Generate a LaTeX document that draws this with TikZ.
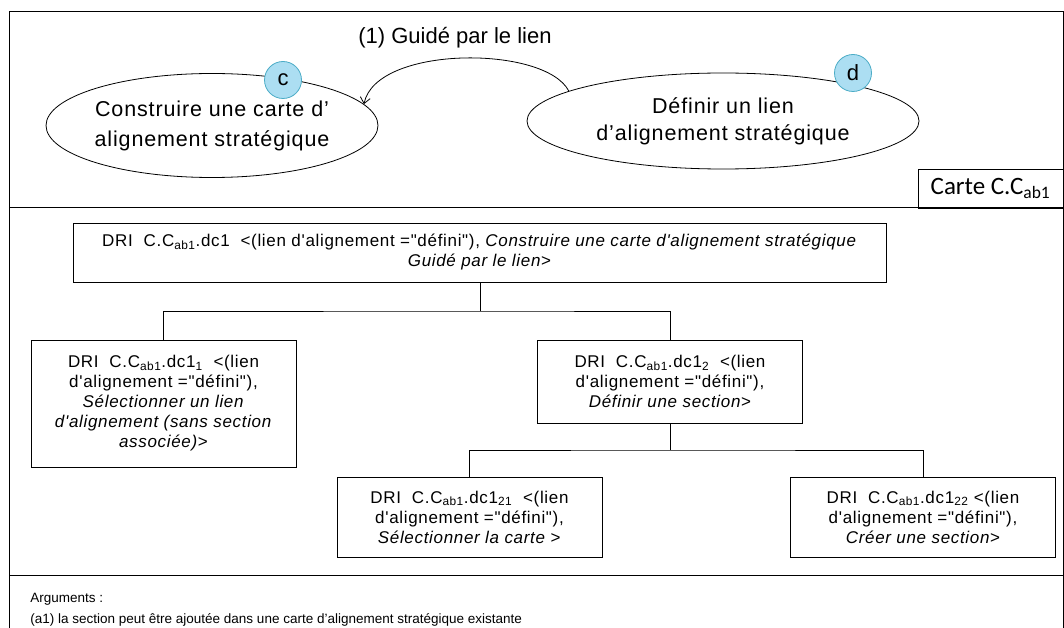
\documentclass[tikz,border=0pt]{standalone}
\usepackage{fontspec}
\setmainfont{Liberation Sans}
\newfontfamily\boxfont{Liberation Sans}[LetterSpace=4]
\newfontfamily\ellfont{Liberation Sans}[LetterSpace=4]
\newfontfamily\cartefont{Carlito}
\usetikzlibrary{shapes.geometric,arrows.meta}
\definecolor{cfill}{RGB}{172,222,242}
\definecolor{cborder}{RGB}{75,172,198}
\begin{document}
\begin{tikzpicture}[x=1pt,y=-1pt,line width=0.8pt,
  ell/.style={draw,ellipse,inner sep=0pt,align=center},
  lbl/.style={circle,draw=cborder,fill=cfill,minimum size=37pt,inner sep=0pt,font=\fontsize{22}{24}\selectfont},
  dri/.style={draw,rectangle,inner sep=0pt,align=center,minimum width=265pt,font=\boxfont\fontsize{17}{20}\selectfont},
  arg/.style={anchor=west,inner sep=0pt,font=\fontsize{13.5}{16}\selectfont},
  sep/.style={line width=1pt}]
\useasboundingbox (0,0) rectangle (1064,628);
% frame
\draw[sep] (9.5,628) -- (9.5,12) -- (1063,12) -- (1063,628);
\draw[sep] (9.5,208) -- (1063,208);
\draw[sep] (9.5,575) -- (1063,575);
% upper part
\node[ell,minimum width=322pt,minimum height=104pt,font=\ellfont\fontsize{21.5}{30}\selectfont] (c) at (212,125.5) {Construire une carte d’\\alignement stratégique};
\node[ell,minimum width=392pt,minimum height=96pt,font=\ellfont\fontsize{21.5}{27}\selectfont] (d) at (723,121) {Définir un lien\\d’alignement stratégique};
\node[lbl] (cl) at (283,80) {c};
\node[lbl] (dl) at (853,73) {d};
\node[font=\fontsize{22}{24}\selectfont] (t) at (455,38) {(1) Guidé par le lien};
\draw[-{Straight Barb[length=6pt,width=10pt]}] (d.169.5) .. controls (545,45) and (376,45) .. (c.8);
\node[draw,minimum width=145pt,minimum height=39pt,inner sep=0pt,font=\cartefont\fontsize{25}{27}\selectfont] (carte) at (990.5,188.5) {Carte C.C\textsubscript{ab1}};
% tree
\node[dri,minimum width=813pt,minimum height=59pt] (top) at (479.5,252.5) {DRI\ \ C.C\textsubscript{ab1}.dc1\ \ <(lien d'alignement ="défini"), \textit{Construire une carte d'alignement stratégique}\\\textit{Guidé par le lien}>};
\node[dri,minimum height=127pt] (b1) at (163.5,403.5) {DRI\ \ C.C\textsubscript{ab1}.dc1\textsubscript{1}\ \ <(lien\\d'alignement ="défini"),\\\textit{Sélectionner un lien}\\\textit{d'alignement (sans section}\\\textit{associée)}>};
\node[dri,minimum height=83pt] (b2) at (670,381.5) {DRI\ \ C.C\textsubscript{ab1}.dc1\textsubscript{2}\ \ <(lien\\d'alignement ="défini"),\\\textit{Définir une section}>};
\node[dri,minimum height=80pt] (b3) at (469.5,517) {DRI\ \ C.C\textsubscript{ab1}.dc1\textsubscript{21}\ \ <(lien\\d'alignement ="défini"),\\\textit{Sélectionner la carte >}};
\node[dri,minimum height=80pt] (b4) at (923,517) {DRI\ \ C.C\textsubscript{ab1}.dc1\textsubscript{22} <(lien\\d'alignement ="défini"),\\\textit{Créer une section}>};
\coordinate (j1) at (480,311);
\coordinate (j2) at (670,450);
\draw (top.south -| j1) -- (j1);
\draw (b1.north) |- (j1) -| (b2.north);
\draw (b2.south) -- (j2);
\draw (b3.north) |- (j2) -| (b4.north);
% arguments
\node[arg] (a0) at (30,599) {Arguments :};
\node[arg] (a1) at (30,620) {(a1) la section peut être ajoutée dans une carte d'alignement stratégique existante};
\end{tikzpicture}
\end{document}
